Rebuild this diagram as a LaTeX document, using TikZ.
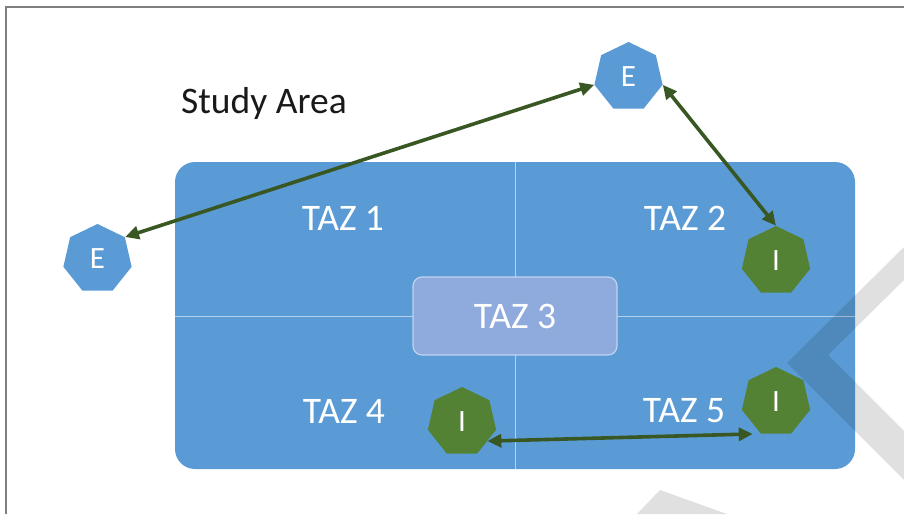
\documentclass[tikz,border=0pt]{standalone}
\usepackage{fontspec}
\setmainfont{Carlito}
\usetikzlibrary{shapes.geometric,arrows.meta}

\definecolor{zoneblue}{HTML}{5B9BD5}
\definecolor{innerblue}{HTML}{8FAADC}
\definecolor{innerrim}{HTML}{BFD3F0}
\definecolor{tripgreen}{HTML}{548235}
\definecolor{arrowgreen}{HTML}{385723}
\definecolor{gridline}{HTML}{B4D0EE}
\definecolor{framegray}{HTML}{7F7F7F}

\begin{document}
\begin{tikzpicture}[x=1pt,y=-1pt,
  hept/.style={regular polygon, regular polygon sides=7, minimum size=70pt,
    inner sep=0pt, text=white, font=\fontsize{31}{37}\selectfont},
  ext/.style={hept, fill=zoneblue},
  int/.style={hept, fill=tripgreen},
  tazlabel/.style={text=white, font=\fontsize{37.5}{45}\selectfont, inner sep=0pt},
  trip/.style={draw=arrowgreen, line width=3.6pt,
    {Triangle[length=14pt,width=13pt]}-{Triangle[length=14pt,width=13pt]}},
  wmark/.style={fill=black, opacity=0.12},
]
\useasboundingbox (0,0) rectangle (904,514);

% outer frame
\draw[framegray, line width=1.5pt] (6,514) -- (6,7) -- (904,7);

% study area zones
\fill[zoneblue, rounded corners=20pt] (175,162) rectangle (855,469);
\draw[gridline, line width=1pt] (515,162) -- (515,469);
\draw[gridline, line width=1pt] (175,316) -- (855,316);

\node[draw=innerrim, line width=1.2pt, fill=innerblue, rounded corners=9pt,
  minimum width=204pt, minimum height=78pt, text=white,
  font=\fontsize{37.5}{45}\selectfont] (taz3) at (515,316) {TAZ 3};

\node[tazlabel] (taz1) at (343,218) {TAZ 1};
\node[tazlabel] (taz2) at (685,218) {TAZ 2};
\node[tazlabel] (taz4) at (344,411) {TAZ 4};
\node[tazlabel] (taz5) at (684,411) {TAZ 5};

\node[anchor=base west, inner sep=0pt, text=black!90,
  font=\fontsize{37.5}{45}\selectfont] (title) at (181,113) {Study Area};

% external and internal trip ends
\node[ext] (etop)  at (628.5,77) {E};
\node[ext] (eleft) at (97.5,259) {E};
\node[int] (i2) at (776,261) {I};
\node[int] (i4) at (462,422) {I};
\node[int] (i5) at (776,402) {I};

% trips
\draw[trip] (eleft.corner 7) -- (etop.corner 3);
\draw[trip] (etop.corner 6) -- (i2.corner 1);
\draw[trip, shorten >=8pt] (i4.-37) -- (i5.corner 4);

% watermark shapes
\fill[wmark] (904,247) -- (787,363) -- (904,480) -- (904,431) -- (828,355) -- (904,280) -- cycle;
\fill[wmark] (637,514) -- (660,490) -- (727,514) -- cycle;
\end{tikzpicture}
\end{document}
